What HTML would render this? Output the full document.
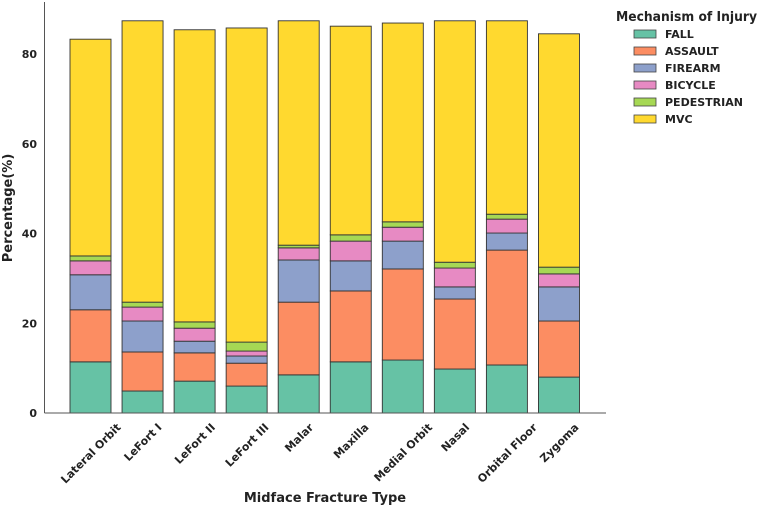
<!DOCTYPE html>
<html><head><meta charset="utf-8"><style>
html,body{margin:0;padding:0;background:#fff;}
svg{display:block;font-family:"DejaVu Sans","Liberation Sans",sans-serif;font-weight:bold;}
</style></head><body>
<svg id="chart" width="762" height="507" viewBox="0 0 762 507">
  <g id="bars"></g>
  <g id="axes">
    <line x1="44.5" y1="2" x2="44.5" y2="413" stroke="#555" stroke-width="1"/>
    <line x1="44.5" y1="413" x2="606" y2="413" stroke="#555" stroke-width="1"/>
  </g>
  <g id="yticks"></g>
  <g id="xticks"></g>
  <text x="12" y="208" transform="rotate(-90 12 208)" text-anchor="middle" font-size="13" fill="#222">Percentage(%)</text>
  <text x="325" y="502" text-anchor="middle" font-size="13" fill="#222">Midface Fracture Type</text>
  <g id="legend">
    <text x="616" y="21" font-size="13" fill="#222" textLength="141" lengthAdjust="spacingAndGlyphs">Mechanism of Injury</text>
  </g>
</svg>
<script>
const categories = ["Lateral Orbit","LeFort I","LeFort II","LeFort III","Malar","Maxilla","Medial Orbit","Nasal","Orbital Floor","Zygoma"];
const seriesNames = ["FALL","ASSAULT","FIREARM","BICYCLE","PEDESTRIAN","MVC"];
const fallValues = [11.4,4.9,7.1,6.0,8.5,11.4,11.8,9.8,10.7,8.0];
const assaultValues = [11.6,8.7,6.3,5.1,16.2,15.8,20.3,15.6,25.6,12.5];
const firearmValues = [7.8,6.9,2.6,1.6,9.4,6.7,6.2,2.7,3.8,7.6];
const bicycleValues = [3.1,3.1,2.9,1.1,2.7,4.4,3.1,4.2,3.1,2.9];
const pedestrianValues = [1.1,1.1,1.4,2.0,0.6,1.4,1.2,1.3,1.1,1.5];
const mvcValues = [48.3,62.7,65.1,70.0,50.0,46.5,44.3,53.8,43.1,52.0];
const yTicks = [0,20,40,60,80];
const colors = ["#66c2a5","#fc8d62","#8da0cb","#e78ac3","#a6d854","#ffd92f"];
const allSeries = [fallValues,assaultValues,firearmValues,bicycleValues,pedestrianValues,mvcValues];

const NS = "http://www.w3.org/2000/svg";
const y0 = 413, pxPerUnit = 4.4875;
function yScale(v){ return y0 - v*pxPerUnit; }
const firstCenter = 90.5, step = 52.05, barW = 41;
function xCenter(i){ return firstCenter + i*step; }

const barsG = document.getElementById('bars');
categories.forEach((c,i)=>{
  let cum = 0;
  allSeries.forEach((s,k)=>{
    const v = s[i];
    const r = document.createElementNS(NS,'rect');
    r.setAttribute('x', xCenter(i)-barW/2);
    r.setAttribute('y', yScale(cum+v));
    r.setAttribute('width', barW);
    r.setAttribute('height', v*pxPerUnit);
    r.setAttribute('fill', colors[k]);
    r.setAttribute('stroke', '#333');
    r.setAttribute('stroke-width', '0.9');
    
    
    barsG.appendChild(r);
    cum += v;
  });
});

const yt = document.getElementById('yticks');
yTicks.forEach(t=>{
  const tx = document.createElementNS(NS,'text');
  tx.setAttribute('x', 37);
  tx.setAttribute('y', yScale(t)+4);
  tx.setAttribute('text-anchor','end');
  tx.setAttribute('font-size','11');
  tx.setAttribute('fill','#222');
  tx.textContent = t;
  
  
  yt.appendChild(tx);
});

const xt = document.getElementById('xticks');
categories.forEach((c,i)=>{
  const tx = document.createElementNS(NS,'text');
  tx.setAttribute('font-size','11');
  tx.setAttribute('fill','#222');
  tx.setAttribute('text-anchor','end');
  tx.textContent = c;
  
  
  xt.appendChild(tx);
  const w = tx.getComputedTextLength();
  const d = w*0.7071;
  const ex = xCenter(i) + d/2 + 3;
  const ey = 428;
  tx.setAttribute('x', ex);
  tx.setAttribute('y', ey);
  tx.setAttribute('transform', 'rotate(-45 ' + ex + ' ' + ey + ')');
});

const lg = document.getElementById('legend');
seriesNames.forEach((n,k)=>{
  const cy = 34 + k*17;
  const r = document.createElementNS(NS,'rect');
  r.setAttribute('x', 634);
  r.setAttribute('y', cy-4);
  r.setAttribute('width', 22);
  r.setAttribute('height', 8);
  r.setAttribute('fill', colors[k]);
  r.setAttribute('stroke', '#444');
  r.setAttribute('stroke-width', '0.8');
  
  
  lg.appendChild(r);
  const t = document.createElementNS(NS,'text');
  t.setAttribute('x', 665);
  t.setAttribute('y', cy+4);
  t.setAttribute('font-size','11');
  t.setAttribute('fill','#222');
  t.textContent = n;
  
  
  lg.appendChild(t);
});
</script>
</body></html>
